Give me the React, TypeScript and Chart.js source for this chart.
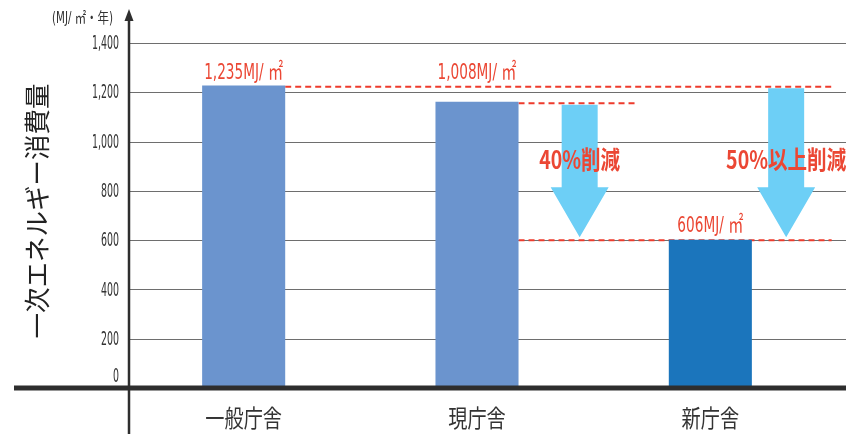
import React, { useEffect, useRef } from "react";
import { Chart, registerables } from "chart.js";

Chart.register(...registerables);

const categories = ["一般庁舎", "現庁舎", "新庁舎"];
const energyValues = [1228, 1162, 602];
const valueLabels = ["1,235MJ/ ㎡", "1,008MJ/ ㎡", "606MJ/ ㎡"];
const yTicks = [0, 200, 400, 600, 800, 1000, 1200, 1400];
const yTickLabels = ["0", "200", "400", "600", "800", "1,000", "1,200", "1,400"];
const refLevels = [1222, 1156, 600];
const reductionLabels = ["40%削減", "50%以上削減"];
const yTitle = "一次エネルギー消費量";
const unitLabel = "(MJ/ ㎡・年)";

const NARROW = "'Liberation Sans Narrow', 'DejaVu Sans Condensed', 'Noto Sans CJK JP', sans-serif";
const CJK = "'Noto Sans CJK JP', 'Noto Sans CJK SC', sans-serif";
const RED = "#eb4734";
const DASH_RED = "#ee3b2c";
const ARROW = "#6dcff6";

function scaledText(
  ctx: CanvasRenderingContext2D,
  text: string,
  x: number,
  y: number,
  font: string,
  color: string,
  align: CanvasTextAlign,
  sx: number
) {
  ctx.save();
  ctx.font = font;
  ctx.fillStyle = color;
  ctx.textBaseline = "middle";
  ctx.textAlign = align;
  ctx.translate(x, y);
  ctx.scale(sx, 1);
  ctx.fillText(text, 0, 0);
  ctx.restore();
}

function fitScale(ctx: CanvasRenderingContext2D, text: string, font: string, target: number) {
  ctx.save();
  ctx.font = font;
  const w = ctx.measureText(text).width;
  ctx.restore();
  return w > 0 ? target / w : 1;
}

const decorPlugin = {
  id: "decor",
  beforeDatasetsDraw(chart: any) {
    const ctx: CanvasRenderingContext2D = chart.ctx;
    const y = chart.scales.y;
    const x = chart.scales.x;
    const W = chart.width;
    ctx.save();
    ctx.strokeStyle = "#6e6e6e";
    ctx.lineWidth = 1;
    yTicks.forEach((t) => {
      if (t === 0) return;
      const py = Math.round(y.getPixelForValue(t)) + 0.5;
      ctx.beginPath();
      ctx.moveTo(130, py);
      ctx.lineTo(W, py);
      ctx.stroke();
    });
    ctx.restore();

    const step = x.getPixelForValue(1) - x.getPixelForValue(0);
    const meta = chart.getDatasetMeta(0);
    const halfBar = meta.data[0].width / 2;
    const lines = [
      { level: refLevels[0], x0: x.getPixelForValue(0) + halfBar, x1: x.getPixelForValue(2) + step * 0.52 },
      { level: refLevels[1], x0: x.getPixelForValue(1) + halfBar, x1: x.getPixelForValue(1) + step * 0.68 },
      { level: refLevels[2], x0: x.getPixelForValue(1) + halfBar, x1: x.getPixelForValue(2) + step * 0.52 },
    ];
    ctx.save();
    ctx.strokeStyle = DASH_RED;
    ctx.lineWidth = 2;
    ctx.setLineDash([6, 4]);
    lines.forEach((l) => {
      const py = y.getPixelForValue(l.level);
      ctx.beginPath();
      ctx.moveTo(l.x0, py);
      ctx.lineTo(l.x1, py);
      ctx.stroke();
    });
    ctx.restore();
  },
  afterDatasetsDraw(chart: any) {
    const ctx: CanvasRenderingContext2D = chart.ctx;
    const y = chart.scales.y;
    const x = chart.scales.x;
    const W = chart.width;
    const H = chart.height;
    const step = x.getPixelForValue(1) - x.getPixelForValue(0);

    const arrows = [
      { cx: x.getPixelForValue(1) + step * 0.44, from: refLevels[1], to: refLevels[2] },
      { cx: x.getPixelForValue(2) + step * 0.325, from: refLevels[0], to: refLevels[2] },
    ];
    ctx.save();
    ctx.fillStyle = ARROW;
    arrows.forEach((a) => {
      const top = y.getPixelForValue(a.from) + 1.5;
      const tip = y.getPixelForValue(a.to) - 3;
      const headBase = tip - 50;
      ctx.beginPath();
      ctx.moveTo(a.cx - 18, top);
      ctx.lineTo(a.cx + 18, top);
      ctx.lineTo(a.cx + 18, headBase);
      ctx.lineTo(a.cx + 29, headBase);
      ctx.lineTo(a.cx, tip);
      ctx.lineTo(a.cx - 29, headBase);
      ctx.lineTo(a.cx - 18, headBase);
      ctx.closePath();
      ctx.fill();
    });
    ctx.restore();

    const boldFont = `bold 25px ${CJK}`;
    const sBold = fitScale(ctx, reductionLabels[0], boldFont, 81);
    arrows.forEach((a, i) => {
      scaledText(ctx, reductionLabels[i], a.cx, 159, boldFont, RED, "center", sBold);
    });

    const vFont = `22px ${NARROW}`;
    const sV = fitScale(ctx, valueLabels[0], vFont, 79);
    const labelLevels = [refLevels[0], refLevels[0], refLevels[2]];
    valueLabels.forEach((t, i) => {
      const py = y.getPixelForValue(labelLevels[i]) - 14;
      scaledText(ctx, t, x.getPixelForValue(i), py, vFont, RED, "center", sV);
    });

    ctx.save();
    ctx.strokeStyle = "#2e2e2e";
    ctx.fillStyle = "#2e2e2e";
    ctx.lineWidth = 2.5;
    ctx.beginPath();
    ctx.moveTo(129, 19);
    ctx.lineTo(129, H);
    ctx.stroke();
    ctx.beginPath();
    ctx.moveTo(129, 9);
    ctx.lineTo(133.5, 21);
    ctx.lineTo(124.5, 21);
    ctx.closePath();
    ctx.fill();
    const y0 = y.getPixelForValue(0);
    ctx.fillRect(14, y0 - 2.5, W - 14, 5);
    ctx.restore();

    const tFont = `20px ${NARROW}`;
    const sT = fitScale(ctx, "1,400", tFont, 27);
    yTicks.forEach((t, i) => {
      let py = y.getPixelForValue(t) + 1;
      if (t === 0) py -= 12;
      scaledText(ctx, yTickLabels[i], 119, py, tFont, "#333333", "right", sT);
    });

    const uFont = `15px ${NARROW}`;
    const sU = fitScale(ctx, unitLabel, uFont, 61);
    scaledText(ctx, unitLabel, 113, 19, uFont, "#333333", "right", sU);

    const cFont = `24px ${CJK}`;
    categories.forEach((c, i) => {
      scaledText(ctx, c, x.getPixelForValue(i), 418, cFont, "#333333", "center", 0.8);
    });

    ctx.save();
    ctx.translate(37, 211);
    ctx.rotate(-Math.PI / 2);
    const tiFont = `26px ${CJK}`;
    const sTi = fitScale(ctx, yTitle, tiFont, 255);
    ctx.font = tiFont;
    ctx.fillStyle = "#222222";
    ctx.textAlign = "center";
    ctx.textBaseline = "middle";
    ctx.scale(sTi, 1);
    ctx.fillText(yTitle, 0, 0);
    ctx.restore();
  },
};

export default function App() {
  const ref = useRef<HTMLCanvasElement | null>(null);
  useEffect(() => {
    document.body.style.margin = "0";
    const canvas = ref.current;
    if (!canvas) return;
    const chart = new Chart(canvas, {
      type: "bar",
      data: {
        labels: categories,
        datasets: [
          {
            data: energyValues,
            backgroundColor: ["#6b94ce", "#6b94ce", "#1b75bc"],
            borderWidth: 0,
            categoryPercentage: 1,
            barPercentage: 0.356,
          },
        ],
      },
      options: {
        animation: false,
        responsive: false,
        events: [],
        layout: { padding: { left: 127, right: 19, top: 43, bottom: 46 } },
        plugins: { legend: { display: false }, tooltip: { enabled: false } },
        scales: {
          x: { type: "category", display: false, offset: true },
          y: { type: "linear", display: false, min: 0, max: 1400 },
        },
      },
      plugins: [decorPlugin],
    });
    return () => chart.destroy();
  }, []);
  return (
    <div style={{ width: 846, height: 434, background: "#ffffff" }}>
      <canvas ref={ref} width={846} height={434} style={{ display: "block" }} />
    </div>
  );
}
